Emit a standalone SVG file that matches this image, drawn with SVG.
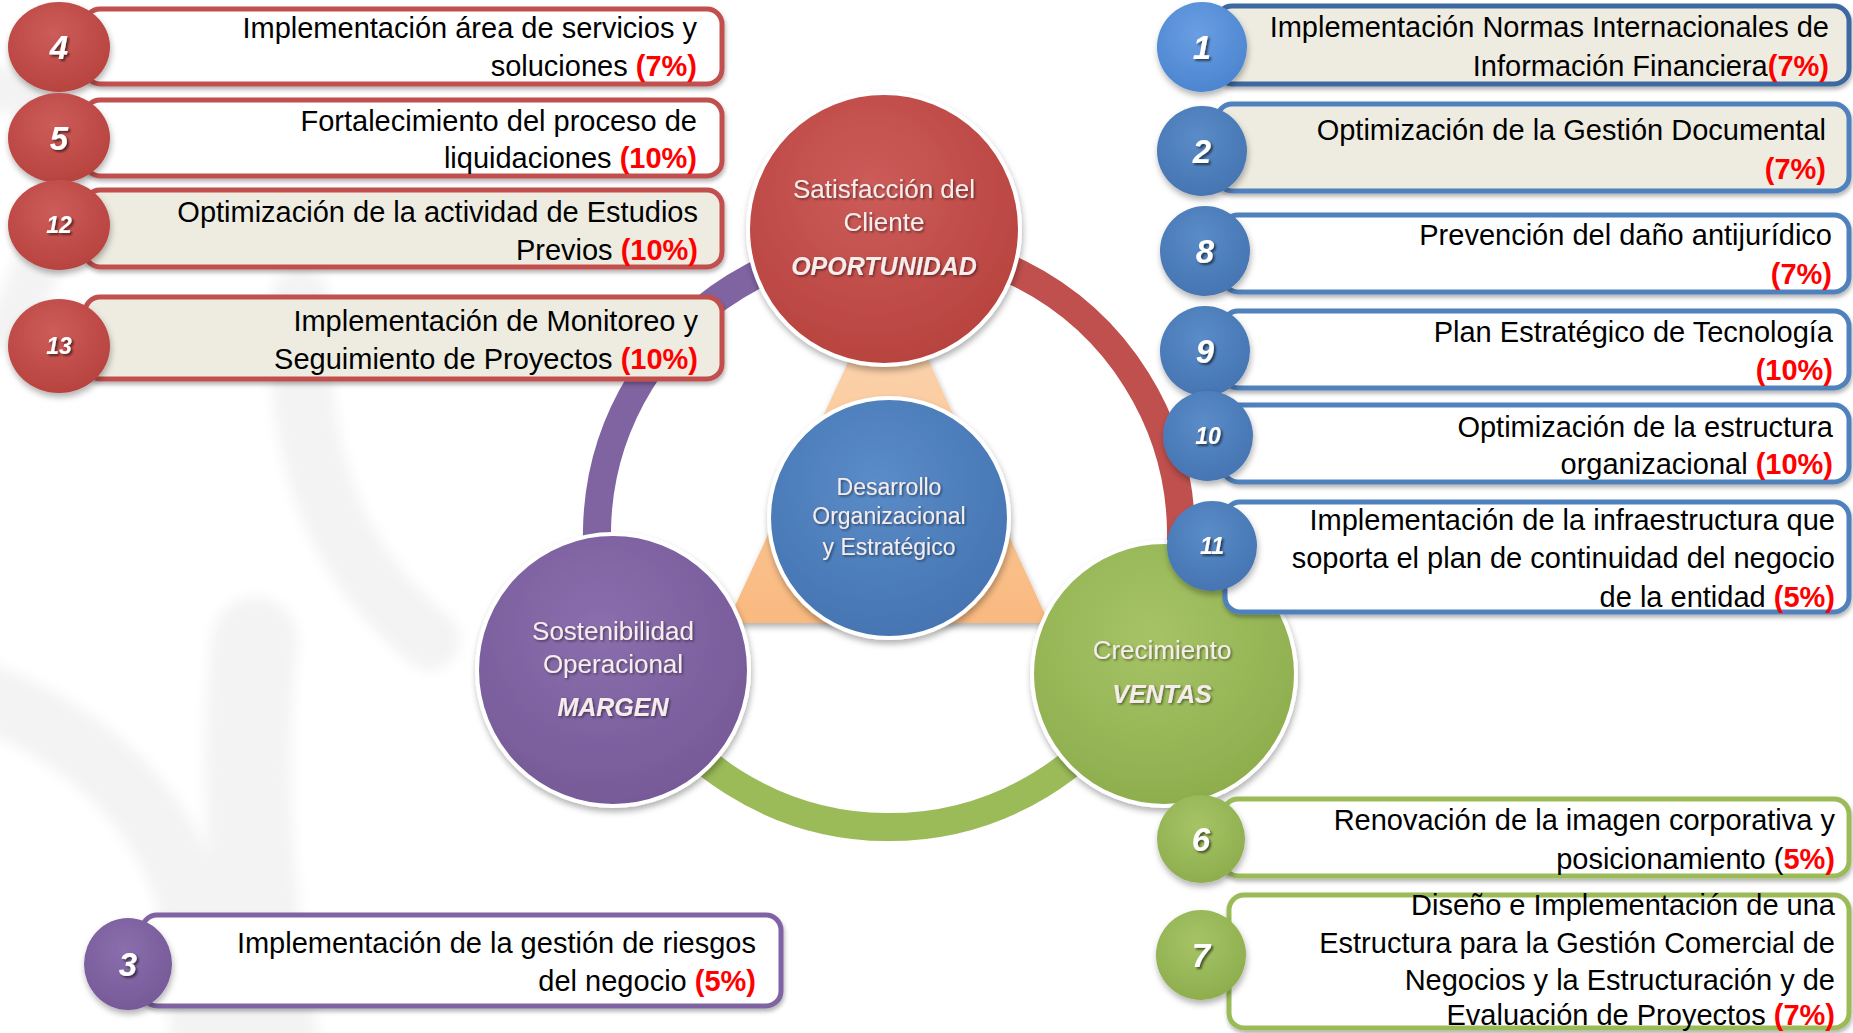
<svg xmlns="http://www.w3.org/2000/svg" width="1853" height="1033" viewBox="0 0 1853 1033">
<defs>
<style>
.t{font-family:"Liberation Sans",Arial,sans-serif;font-size:29px;fill:#000;text-anchor:end}
.p{fill:#FF0000;font-weight:bold}
.num{font-family:"Liberation Sans",Arial,sans-serif;font-weight:bold;font-style:italic;fill:#fff;text-anchor:middle;filter:url(#tsh)}
.n1{font-size:33px}
.n2{font-size:23px}
.bx{fill:#fff;stroke-width:5;filter:url(#bsh)}
.bg{fill:#EEECE1}
.sr{stroke:#C0504D}
.sb{stroke:#4F81BD}
.sb1{stroke:#3D69A0}
.sg{stroke:#9BBB59}
.sp{stroke:#8064A2}
.cr{fill:url(#gRed)}
.cb{fill:url(#gBlue)}
.cb1{fill:url(#gBlue1)}
.cg{fill:url(#gGreen)}
.cp{fill:url(#gPurple)}
.ic{filter:url(#csh)}
.ct{font-family:"Liberation Sans",Arial,sans-serif;font-size:26px;fill:#F6ECEC;text-anchor:middle;filter:url(#tsh2)}
.cti{font-weight:bold;font-style:italic;font-size:25px}
.ring{fill:none;stroke-width:28}
.big{stroke:#fff;stroke-width:4;filter:url(#csh)}
.sw{fill:none;stroke:#F3F3F3;stroke-linecap:round}
</style>
<filter id="tsh" x="-30%" y="-30%" width="160%" height="160%"><feDropShadow dx="2" dy="2" stdDeviation="1.2" flood-color="#000" flood-opacity="0.55"/></filter>
<filter id="tsh2" x="-20%" y="-30%" width="140%" height="160%"><feDropShadow dx="1.5" dy="1.5" stdDeviation="1" flood-color="#000" flood-opacity="0.45"/></filter>
<filter id="bsh" x="-5%" y="-10%" width="110%" height="130%"><feDropShadow dx="1" dy="3" stdDeviation="2" flood-color="#000" flood-opacity="0.3"/></filter>
<filter id="csh" x="-20%" y="-20%" width="140%" height="150%"><feDropShadow dx="1" dy="4" stdDeviation="3" flood-color="#000" flood-opacity="0.3"/></filter>
<filter id="blur" x="-20%" y="-20%" width="140%" height="140%"><feGaussianBlur stdDeviation="7"/></filter>
<radialGradient id="gRed" cx="45%" cy="35%" r="65%"><stop offset="0" stop-color="#CC5C59"/><stop offset="1" stop-color="#B8433F"/></radialGradient>
<radialGradient id="gBlue" cx="45%" cy="35%" r="65%"><stop offset="0" stop-color="#5A8CC8"/><stop offset="1" stop-color="#4575B2"/></radialGradient>
<radialGradient id="gBlue1" cx="45%" cy="35%" r="65%"><stop offset="0" stop-color="#6A9EE2"/><stop offset="1" stop-color="#4C86D0"/></radialGradient>
<radialGradient id="gGreen" cx="45%" cy="35%" r="65%"><stop offset="0" stop-color="#A6C466"/><stop offset="1" stop-color="#8EAE4E"/></radialGradient>
<radialGradient id="gPurple" cx="45%" cy="35%" r="65%"><stop offset="0" stop-color="#8A6EAD"/><stop offset="1" stop-color="#765A98"/></radialGradient>
<linearGradient id="gTri" x1="0" y1="0" x2="0" y2="1"><stop offset="0" stop-color="#FCD9B8"/><stop offset="1" stop-color="#F9B97F"/></linearGradient>
</defs>
<rect width="1853" height="1033" fill="#fff"/>
<g id="background" filter="url(#blur)">
<path class="sw" stroke-width="60" d="M300 300 C 295 450 330 560 430 640"/>
<path class="sw" stroke-width="85" d="M255 640 C 240 760 250 900 275 1040"/>
<path class="sw" stroke-width="65" d="M-30 690 C 80 730 160 800 190 900 L 205 1040"/>
<path class="sw" stroke-width="45" d="M-20 90 C 60 80 90 150 40 260 L 10 330"/>
</g>
<g id="connectors">
<path class="ring" stroke="#C0504D" d="M883.9 243 A292 292 0 0 1 1149.2 667.6"/>
<path class="ring" stroke="#9BBB59" d="M1149.2 667.6 A292 292 0 0 1 626.5 663"/>
<path class="ring" stroke="#8064A2" d="M626.5 663 A292 292 0 0 1 883.9 243"/>
</g>
<g id="triangle">
<polygon points="889,274 1049,623 727,623" fill="url(#gTri)" filter="url(#csh)"/>
</g>
<g id="satisfaccion">
<circle class="cr big" cx="884" cy="229" r="136"/>
<text class="ct" x="884" y="198">Satisfacción del</text>
<text class="ct" x="884" y="231">Cliente</text>
<text class="ct cti" x="884" y="275">OPORTUNIDAD</text>
</g>
<g id="sostenibilidad">
<circle class="cp big" cx="613" cy="670" r="136"/>
<text class="ct" x="613" y="640">Sostenibilidad</text>
<text class="ct" x="613" y="673">Operacional</text>
<text class="ct cti" x="613" y="716">MARGEN</text>
</g>
<g id="crecimiento">
<circle class="cg big" cx="1164" cy="674" r="132"/>
<text class="ct" x="1162" y="659">Crecimiento</text>
<text class="ct cti" x="1162" y="703">VENTAS</text>
</g>
<g id="desarrollo">
<circle class="cb big" cx="889" cy="518" r="120"/>
<text class="ct" style="font-size:23px" x="889" y="495">Desarrollo</text>
<text class="ct" style="font-size:23px" x="889" y="524">Organizacional</text>
<text class="ct" style="font-size:23px" x="889" y="555">y Estratégico</text>
</g>
<g id="item4">
<rect class="bx sr" x="85" y="9" width="637" height="75" rx="15"/>
<ellipse class="cr ic" cx="59" cy="47" rx="51" ry="45"/>
<text class="num n1" x="59" y="59">4</text>
<text class="t" x="697" y="38">Implementación área de servicios y</text>
<text class="t" x="697" y="76">soluciones <tspan class="p">(7%)</tspan></text>
</g>
<g id="item5">
<rect class="bx sr" x="85" y="100" width="637" height="76" rx="15"/>
<ellipse class="cr ic" cx="59" cy="138" rx="51" ry="45"/>
<text class="num n1" x="59" y="150">5</text>
<text class="t" x="697" y="131">Fortalecimiento del proceso de</text>
<text class="t" x="697" y="168">liquidaciones <tspan class="p">(10%)</tspan></text>
</g>
<g id="item12">
<rect class="bx sr bg" x="85" y="190" width="637" height="77" rx="15"/>
<ellipse class="cr ic" cx="59" cy="225" rx="51" ry="45"/>
<text class="num n2" x="59" y="233">12</text>
<text class="t" x="698" y="222">Optimización de la actividad de Estudios</text>
<text class="t" x="698" y="260">Previos <tspan class="p">(10%)</tspan></text>
</g>
<g id="item13">
<rect class="bx sr bg" x="85" y="297" width="637" height="82" rx="15"/>
<ellipse class="cr ic" cx="59" cy="346" rx="51" ry="47"/>
<text class="num n2" x="59" y="354">13</text>
<text class="t" x="698" y="331">Implementación de Monitoreo y</text>
<text class="t" x="698" y="369">Seguimiento de Proyectos <tspan class="p">(10%)</tspan></text>
</g>
<g id="item1">
<rect class="bx sb1 bg" x="1217" y="6" width="632" height="78" rx="15"/>
<circle class="cb1 ic" cx="1202" cy="47" r="45"/>
<text class="num n1" x="1202" y="59">1</text>
<text class="t" x="1829" y="37">Implementación Normas Internacionales de</text>
<text class="t" x="1829" y="76">Información Financiera<tspan class="p">(7%)</tspan></text>
</g>
<g id="item2">
<rect class="bx sb bg" x="1217" y="104" width="632" height="87" rx="15"/>
<circle class="cb ic" cx="1202" cy="151" r="45"/>
<text class="num n1" x="1202" y="163">2</text>
<text class="t" x="1826" y="140">Optimización de la Gestión Documental</text>
<text class="t" x="1826" y="179"><tspan class="p">(7%)</tspan></text>
</g>
<g id="item8">
<rect class="bx sb" x="1223" y="215" width="626" height="77" rx="15"/>
<circle class="cb ic" cx="1205" cy="251" r="45"/>
<text class="num n1" x="1205" y="263">8</text>
<text class="t" x="1832" y="245">Prevención del daño antijurídico</text>
<text class="t" x="1832" y="284"><tspan class="p">(7%)</tspan></text>
</g>
<g id="item9">
<rect class="bx sb" x="1223" y="311" width="626" height="77" rx="15"/>
<circle class="cb ic" cx="1205" cy="351" r="45"/>
<text class="num n1" x="1205" y="363">9</text>
<text class="t" x="1833" y="342">Plan Estratégico de Tecnología</text>
<text class="t" x="1833" y="380"><tspan class="p">(10%)</tspan></text>
</g>
<g id="item10">
<rect class="bx sb" x="1223" y="405" width="626" height="77" rx="15"/>
<circle class="cb ic" cx="1208" cy="436" r="45"/>
<text class="num n2" x="1208" y="444">10</text>
<text class="t" x="1833" y="437">Optimización de la estructura</text>
<text class="t" x="1833" y="474">organizacional <tspan class="p">(10%)</tspan></text>
</g>
<g id="item11">
<rect class="bx sb" x="1225" y="502" width="624" height="110" rx="15"/>
<circle class="cb ic" cx="1212" cy="546" r="45"/>
<text class="num n2" x="1212" y="554">11</text>
<text class="t" x="1835" y="530">Implementación de la infraestructura que</text>
<text class="t" x="1835" y="568">soporta el plan de continuidad del negocio</text>
<text class="t" x="1835" y="607">de la entidad <tspan class="p">(5%)</tspan></text>
</g>
<g id="item6">
<rect class="bx sg" x="1223" y="799" width="626" height="77" rx="15"/>
<circle class="cg ic" cx="1201" cy="839" r="44"/>
<text class="num n1" x="1201" y="851">6</text>
<text class="t" x="1835" y="830">Renovación de la imagen corporativa y</text>
<text class="t" x="1835" y="869">posicionamiento (<tspan class="p">5%)</tspan></text>
</g>
<g id="item7">
<rect class="bx sg" x="1229" y="895" width="620" height="133" rx="15"/>
<circle class="cg ic" cx="1201" cy="955" r="45"/>
<text class="num n1" x="1201" y="967">7</text>
<text class="t" x="1835" y="915">Diseño e Implementación de una</text>
<text class="t" x="1835" y="953">Estructura para la Gestión Comercial de</text>
<text class="t" x="1835" y="990">Negocios y la Estructuración y de</text>
<text class="t" x="1835" y="1025">Evaluación de Proyectos <tspan class="p">(7%)</tspan></text>
</g>
<g id="item3">
<rect class="bx sp" x="142" y="915" width="639" height="91" rx="15"/>
<ellipse class="cp ic" cx="128" cy="964" rx="44" ry="46"/>
<text class="num n1" x="128" y="976">3</text>
<text class="t" x="756" y="953">Implementación de la gestión de riesgos</text>
<text class="t" x="756" y="991">del negocio <tspan class="p">(5%)</tspan></text>
</g>
</svg>
